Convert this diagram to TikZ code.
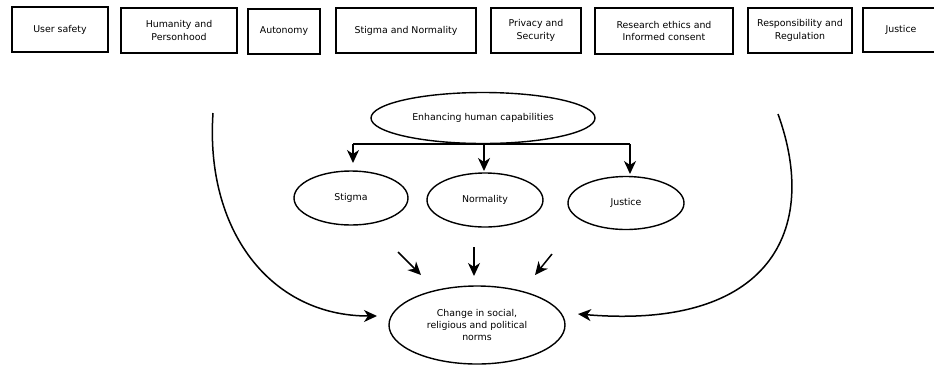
\documentclass[tikz,border=0pt]{standalone}
\usepackage{fontspec}
\setmainfont{DejaVu Sans}
\usetikzlibrary{shapes.geometric,arrows.meta}
\begin{document}
\begin{tikzpicture}[x=1pt,y=-1pt,
  font=\fontsize{9.4}{12.3}\selectfont,
  topbox/.style={draw=black,line width=1.6pt,rectangle,minimum height=45pt,inner sep=0pt,align=center},
  oval/.style={draw=black,line width=1.4pt,ellipse,inner sep=0pt,align=center},
  arr/.style={line width=1.5pt,-{Stealth[length=13pt,width=12pt,inset=4pt]}},
  lnk/.style={line width=1.5pt}]
\useasboundingbox (0,0) rectangle (934,365);
% top boxes
\node[topbox,minimum width=96pt] (b1) at (60,29.5) {User safety};
\node[topbox,minimum width=116pt] (b2) at (179,30.5) {Humanity and\\Personhood};
\node[topbox,minimum width=72pt] (b3) at (284,31.5) {Autonomy};
\node[topbox,minimum width=140pt] (b4) at (406,30.5) {Stigma and Normality};
\node[topbox,minimum width=90pt] (b5) at (536,30.5) {Privacy and\\Security};
\node[topbox,minimum width=138pt,minimum height=46pt] (b6) at (664,31) {Research ethics and\\Informed consent};
\node[topbox,minimum width=104pt] (b7) at (800,30.5) {Responsibility and\\Regulation};
\node[topbox,minimum width=76pt,minimum height=44pt] (b8) at (901,30) {Justice};
% ellipses
\node[oval,minimum width=224pt,minimum height=51pt] (e0) at (483,118) {Enhancing human capabilities};
\node[oval,minimum width=114pt,minimum height=54pt] (s) at (351,198) {Stigma};
\node[oval,minimum width=116pt,minimum height=54pt] (n) at (485,200) {Normality};
\node[oval,minimum width=116pt,minimum height=53pt] (j) at (626,203) {Justice};
\node[oval,minimum width=176pt,minimum height=78pt] (c) at (477,325) {Change in social,\\religious and political\\norms};
% tree connectors
\coordinate (hl) at (353,144);
\coordinate (hr) at (630,144);
\coordinate (hm) at (484,144);
\coordinate (hme) at (484,171);
\draw[lnk] (hl) -- (hr);
\draw[arr] (hl) -- (353,163);
\draw[arr] (hm) -- (hme);
\draw[arr] (hr) -- (630,174);
% small arrows
\coordinate (a1s) at (398,252); \coordinate (a1e) at (421,275);
\coordinate (a2s) at (474,247); \coordinate (a2e) at (474,276);
\coordinate (a3s) at (552,254); \coordinate (a3e) at (535,275);
\draw[arr] (a1s) -- (a1e);
\draw[arr] (a2s) -- (a2e);
\draw[arr] (a3s) -- (a3e);
% big curves
\coordinate (lcs) at (213,113);
\coordinate (lce) at (377,316);
\coordinate (rcs) at (778,114);
\coordinate (rce) at (578,314);
\draw[arr] (lcs) .. controls (205,230) and (270,316) .. (lce);
\draw[arr] (rcs) .. controls (820,230) and (770,330) .. (rce);
\end{tikzpicture}
\end{document}
